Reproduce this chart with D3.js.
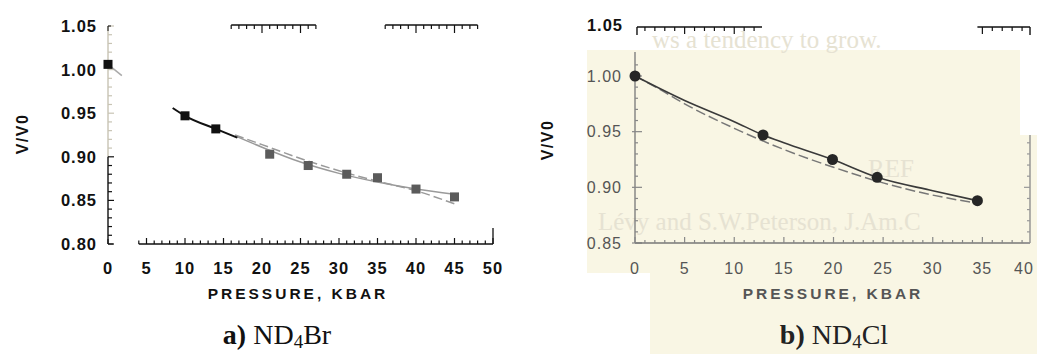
<!DOCTYPE html>
<html><head><meta charset="utf-8">
<script src="https://cdn.jsdelivr.net/npm/d3@7"></script>
<style>
body{margin:0;background:#fff}
svg{display:block}
.lab{font-family:"Liberation Sans",Arial,sans-serif;font-weight:bold;fill:#111}
.labR{font-family:"Liberation Sans",Arial,sans-serif;fill:#555}
.cap{font-family:"Liberation Serif","Times New Roman",serif;fill:#111}
.ghost{font-family:"Liberation Serif","Times New Roman",serif;fill:#e6e2d2}
</style>
</head><body>
<svg id="c" width="1037" height="354"></svg>
<script>
// ---- ND4Br : pressure (kbar) vs V/V0 ----
const brZeroP = [0];
const brZeroV = [1.006];
const brBlackP = [10, 14];
const brBlackV = [0.947, 0.932];
const brGrayP = [21, 26, 31, 35, 40, 45];
const brGrayV = [0.903, 0.890, 0.880, 0.876, 0.863, 0.854];
const brLowFitP = [8.4, 10, 14, 16.8];
const brLowFitV = [0.956, 0.947, 0.932, 0.922];
const brSolidP = [16.5, 20, 25, 30, 35, 40, 45];
const brSolidV = [0.924, 0.911, 0.894, 0.881, 0.871, 0.863, 0.857];
const brDashP = [16.5, 20, 25, 30, 35, 40, 45];
const brDashV = [0.925, 0.914, 0.898, 0.884, 0.872, 0.861, 0.846];
const brStubP = [0, 1.8];
const brStubV = [1.006, 0.993];
const brXTicks = [0, 5, 10, 15, 20, 25, 30, 35, 40, 45, 50];
const brYTicks = [0.80, 0.85, 0.90, 0.95, 1.00, 1.05];

// ---- ND4Cl ----
const clP = [0, 12.9, 19.9, 24.4, 34.5];
const clV = [1.000, 0.947, 0.925, 0.909, 0.888];
const clSolidP = [0, 5, 10, 12.9, 15, 19.9, 24.4, 30, 34.5];
const clSolidV = [1.000, 0.978, 0.959, 0.947, 0.940, 0.925, 0.909, 0.897, 0.888];
const clDashP = [0, 2.5, 5, 10, 15, 20, 25, 30, 34.3];
const clDashV = [1.000, 0.988, 0.975, 0.953, 0.934, 0.918, 0.904, 0.893, 0.886];
const clXTicks = [0, 5, 10, 15, 20, 25, 30, 35, 40];
const clYTicks = [0.85, 0.90, 0.95, 1.00];

const svg = d3.select("#c");

function ticksPath(g, scale, vals, orient, pos, minorLen, majorLen, majorEvery, color) {
  const isMajor = v => Math.abs(v / majorEvery - Math.round(v / majorEvery)) < 1e-6;
  vals.forEach(v => {
    const len = isMajor(v) ? majorLen : minorLen;
    const p = scale(v);
    let x1, y1, x2, y2;
    if (orient === "up") { x1 = x2 = p; y1 = pos; y2 = pos - len; }
    if (orient === "down") { x1 = x2 = p; y1 = pos; y2 = pos + len; }
    if (orient === "right") { y1 = y2 = p; x1 = pos; x2 = pos + len; }
    if (orient === "left") { y1 = y2 = p; x1 = pos; x2 = pos - len; }
    g.append("line").attr("x1", x1).attr("y1", y1).attr("x2", x2).attr("y2", y2)
      .attr("stroke", color).attr("stroke-width", 1.2);
  });
}

// =============== panel a ===============
const xL = d3.scaleLinear([0, 50], [108, 493]);
const yL = d3.scaleLinear([0.80, 1.05], [244, 26]);
const gA = svg.append("g");

// left axis: light upper part, dark lower part
gA.append("line").attr("x1", 108).attr("x2", 108).attr("y1", yL(1.05)).attr("y2", yL(0.90))
  .attr("stroke", "#cfcbbd").attr("stroke-width", 1.6);
gA.append("line").attr("x1", 108).attr("x2", 108).attr("y1", yL(0.90)).attr("y2", yL(0.80))
  .attr("stroke", "#111").attr("stroke-width", 1.4);
ticksPath(gA, yL, d3.range(91, 106).map(d => d / 100), "right", 108, 4, 6, 0.05, "#c8c4b4");
ticksPath(gA, yL, d3.range(80, 91).map(d => d / 100), "right", 108, 4, 6, 0.05, "#111");
gA.append("path").attr("d", `M111,${yL(1.05)} H108 V${yL(1.05) + 5}`).attr("fill", "none").attr("stroke", "#111");
gA.append("path").attr("d", `M108,${yL(0.80) - 5} V${yL(0.80)} H113`).attr("fill", "none").attr("stroke", "#111");

// bottom axis (ticks inward)
gA.append("line").attr("x1", xL(4)).attr("x2", xL(50)).attr("y1", 244).attr("y2", 244)
  .attr("stroke", "#111").attr("stroke-width", 1.3);
ticksPath(gA, xL, d3.range(4, 51), "up", 244, 3.5, 6, 5, "#111");
gA.append("line").attr("x1", xL(50)).attr("x2", xL(50)).attr("y1", 244).attr("y2", 228)
  .attr("stroke", "#111").attr("stroke-width", 1.3);

// top axis fragments
[[16, 27], [36, 48]].forEach(([a, b]) => {
  gA.append("line").attr("x1", xL(a)).attr("x2", xL(b)).attr("y1", 25).attr("y2", 25)
    .attr("stroke", "#111").attr("stroke-width", 1.4);
  ticksPath(gA, xL, d3.range(a, b + 1), "down", 25, 4, 8, 5, "#111");
});

// tick labels
gA.selectAll("text.yt").data(brYTicks).join("text").attr("class", "lab")
  .attr("x", 97).attr("y", d => yL(d)).attr("dy", "0.36em").attr("text-anchor", "end")
  .attr("font-size", 16.5).attr("letter-spacing", 1).text(d => d.toFixed(2));
gA.selectAll("text.xt").data(brXTicks).join("text").attr("class", "lab")
  .attr("x", d => xL(d)).attr("y", 268).attr("dy", "0.36em").attr("text-anchor", "middle")
  .attr("font-size", 16.5).attr("letter-spacing", 1).text(d => d);
gA.append("text").attr("class", "lab").attr("font-size", 15.5).attr("letter-spacing", 3)
  .attr("text-anchor", "middle").attr("x", 298).attr("y", 293).attr("dy", "0.36em").text("PRESSURE, KBAR");
gA.append("text").attr("class", "lab").attr("font-size", 16).attr("letter-spacing", 1.5)
  .attr("text-anchor", "middle").attr("transform", "translate(22,134) rotate(-90)").attr("dy", "0.36em").text("V/V0");

// caption
const capA = gA.append("text").attr("class", "cap").attr("x", 277).attr("y", 344)
  .attr("text-anchor", "middle").attr("font-size", 28);
capA.append("tspan").attr("font-weight", "bold").text("a)");
capA.append("tspan").text(" ND");
capA.append("tspan").attr("font-size", 19).attr("dy", 4).text("4");
capA.append("tspan").attr("dy", -4).text("Br");

// fitted curves
const lineL = (P, V) => d3.line().x((d, i) => xL(P[i])).y((d, i) => yL(V[i])).curve(d3.curveMonotoneX)(P);
gA.append("path").attr("d", lineL(brSolidP, brSolidV)).attr("fill", "none").attr("stroke", "#9a9a9a").attr("stroke-width", 1.5);
gA.append("path").attr("d", lineL(brDashP, brDashV)).attr("fill", "none").attr("stroke", "#9a9a9a")
  .attr("stroke-width", 1.5).attr("stroke-dasharray", "9,4");
gA.append("path").attr("d", lineL(brLowFitP, brLowFitV)).attr("fill", "none").attr("stroke", "#111").attr("stroke-width", 2);
gA.append("path").attr("d", lineL(brStubP, brStubV)).attr("fill", "none").attr("stroke", "#aaa").attr("stroke-width", 1.5);

// squares
const sq = 9;
const drawSq = (P, V, col) => gA.append("g").selectAll("rect").data(P).join("rect")
  .attr("x", (d, i) => xL(P[i]) - sq / 2).attr("y", (d, i) => yL(V[i]) - sq / 2)
  .attr("width", sq).attr("height", sq).attr("fill", col);
drawSq(brGrayP, brGrayV, "#5b5b5b");
drawSq(brBlackP, brBlackV, "#111");
drawSq(brZeroP, brZeroV, "#111");

// =============== panel b ===============
const xR = d3.scaleLinear([0, 40], [635, 1032]);
const yR = d3.scaleLinear([0.85, 1.00], [243, 76]);
const gB = svg.append("g");

gB.append("path").attr("d", "M587,50 H1020 V135 H1037 V354 H650 V273 H587 Z").attr("fill", "#f9f6e4");

// faint show-through lines on the paper
gB.append("text").attr("class", "ghost").attr("font-size", 25).attr("x", 652).attr("y", 48).text("ws a tendency to grow.");
gB.append("text").attr("class", "ghost").attr("font-size", 25).attr("x", 868).attr("y", 177).text("REF");
gB.append("text").attr("class", "ghost").attr("font-size", 25).attr("x", 598).attr("y", 230).text("Lévy and S.W.Peterson, J.Am.C");

// axes
gB.append("line").attr("x1", 635).attr("x2", 635).attr("y1", 52).attr("y2", 243).attr("stroke", "#777").attr("stroke-width", 1.3);
ticksPath(gB, yR, d3.range(85, 102).map(d => d / 100), "right", 635, 3, 7, 0.05, "#888");
ticksPath(gB, yR, [0.85, 0.90, 0.95, 1.00], "left", 635, 3, 3, 0.05, "#888");
gB.append("line").attr("x1", 635).attr("x2", 1030).attr("y1", 243).attr("y2", 243).attr("stroke", "#777").attr("stroke-width", 1.3);
ticksPath(gB, xR, d3.range(0, 40), "up", 243, 3, 6, 5, "#888");
gB.append("line").attr("x1", 1030).attr("x2", 1030).attr("y1", 135).attr("y2", 243).attr("stroke", "#888").attr("stroke-width", 1.3);
ticksPath(gB, yR, d3.range(85, 95).map(d => d / 100), "left", 1030, 3, 6, 0.05, "#999");

// top axis fragments
[[0.2, 12.8], [34.5, 39.8]].forEach(([a, b]) => {
  gB.append("line").attr("x1", xR(a)).attr("x2", xR(b)).attr("y1", 27).attr("y2", 27).attr("stroke", "#111").attr("stroke-width", 1.4);
  ticksPath(gB, xR, d3.range(Math.ceil(a), Math.floor(b) + 1), "down", 27, 4, 7, 5, "#111");
});
gB.append("line").attr("x1", xR(0.2)).attr("x2", xR(0.2)).attr("y1", 27).attr("y2", 35).attr("stroke", "#111").attr("stroke-width", 1.4);
gB.append("line").attr("x1", xR(39.8)).attr("x2", xR(39.8)).attr("y1", 27).attr("y2", 35).attr("stroke", "#111").attr("stroke-width", 1.4);
gB.append("text").attr("class", "lab").attr("font-size", 16.5).attr("letter-spacing", 1)
  .attr("x", 623).attr("y", 25).attr("dy", "0.36em").attr("text-anchor", "end").text("1.05");

// tick labels
gB.selectAll("text.yt").data(clYTicks).join("text").attr("class", "labR")
  .attr("x", 622).attr("y", d => yR(d)).attr("dy", "0.36em").attr("text-anchor", "end")
  .attr("font-size", 16).attr("letter-spacing", 1).text(d => d.toFixed(2));
gB.selectAll("text.xt").data(clXTicks).join("text").attr("class", "labR")
  .attr("x", d => Math.min(xR(d), 1024)).attr("y", 268).attr("dy", "0.36em").attr("text-anchor", "middle")
  .attr("font-size", 16).attr("letter-spacing", 1).text(d => d);
gB.append("text").attr("class", "labR").attr("font-size", 15.5).attr("letter-spacing", 3).style("font-weight", "bold")
  .attr("text-anchor", "middle").attr("x", 833).attr("y", 293).attr("dy", "0.36em").text("PRESSURE, KBAR");
gB.append("text").attr("class", "lab").attr("font-size", 16).attr("letter-spacing", 1.5)
  .attr("text-anchor", "middle").attr("transform", "translate(547,140) rotate(-90)").attr("dy", "0.36em").text("V/V0");

const capB = gB.append("text").attr("class", "cap").attr("x", 834).attr("y", 344)
  .attr("text-anchor", "middle").attr("font-size", 28).style("fill", "#222");
capB.append("tspan").attr("font-weight", "bold").text("b)");
capB.append("tspan").text(" ND");
capB.append("tspan").attr("font-size", 19).attr("dy", 4).text("4");
capB.append("tspan").attr("dy", -4).text("Cl");

// curves and points
const lineR = (P, V) => d3.line().x((d, i) => xR(P[i])).y((d, i) => yR(V[i])).curve(d3.curveMonotoneX)(P);
gB.append("path").attr("d", lineR(clDashP, clDashV)).attr("fill", "none").attr("stroke", "#777")
  .attr("stroke-width", 1.5).attr("stroke-dasharray", "10,4");
gB.append("path").attr("d", lineR(clSolidP, clSolidV)).attr("fill", "none").attr("stroke", "#3a3a3a").attr("stroke-width", 1.6);
gB.append("g").selectAll("circle").data(clP).join("circle")
  .attr("cx", (d, i) => xR(clP[i])).attr("cy", (d, i) => yR(clV[i])).attr("r", 5.5).attr("fill", "#262626");
</script>
</body></html>
